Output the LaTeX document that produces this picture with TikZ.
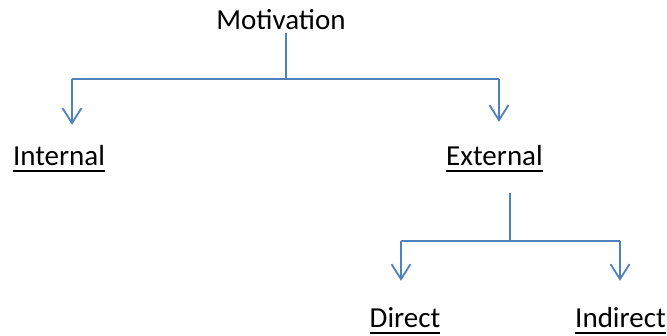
\documentclass[tikz,border=0pt]{standalone}
\usepackage{fontspec}
\setmainfont{Carlito}
\usetikzlibrary{arrows.meta}
\definecolor{linkblue}{RGB}{79,129,189}
\newcommand{\myul}[1]{\setbox0\hbox{#1}\rlap{\copy0}\rule[-7pt]{\wd0}{1.8pt}}
\begin{document}
\begin{tikzpicture}[x=1pt,y=-1pt,
  lbl/.style={inner sep=0pt,anchor=base,text height=21pt,text depth=8pt,font=\fontsize{29}{34}\selectfont},
  conn/.style={draw=linkblue,line width=1.8pt},
  arr/.style={conn,-{Straight Barb[length=15pt,width=19pt,line width=1.8pt]}}]
\useasboundingbox (0,0) rectangle (667,335);
% nodes
\node[lbl,text depth=4pt] (mot) at (281,29) {Motivation};
\node[lbl] (int) at (59,165) {\myul{Internal}};
\node[lbl] (ext) at (494.5,165) {\myul{External}};
\node[lbl] (dir) at (405,327) {\myul{Direct}};
\node[lbl] (ind) at (620.5,327) {\myul{Indirect}};
% junctions
\coordinate (j0) at (286,79);
\coordinate (jl) at (72,79);
\coordinate (jr) at (499,79);
\coordinate (k0) at (510,241);
\coordinate (kl) at (401,241);
\coordinate (kr) at (620,241);
% connectors
\draw[conn] (mot.south -| j0) -- (j0);
\draw[conn] (jl) -- (jr);
\draw[arr,shorten >=19pt] (jl) -- (jl |- int.north);
\draw[arr,shorten >=22pt] (jr) -- (jr |- ext.north);
\draw[conn,shorten <=20pt] (ext.south -| k0) -- (k0);
\draw[conn] (kl) -- (kr);
\draw[arr,shorten >=25pt] (kl) -- (kl |- dir.north);
\draw[arr,shorten >=25pt] (kr) -- (kr |- ind.north);
\end{tikzpicture}
\end{document}
